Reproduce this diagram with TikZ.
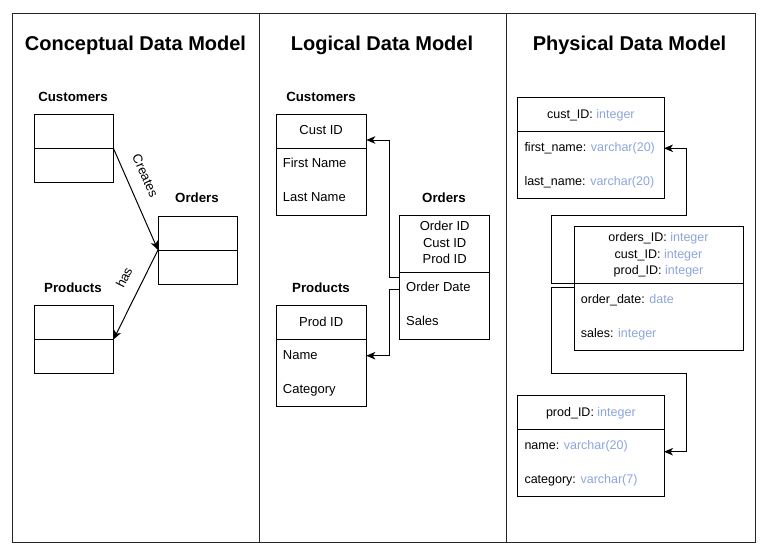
\documentclass[tikz,border=0pt]{standalone}
\usepackage{fontspec}
\setmainfont{Liberation Sans}
\usetikzlibrary{arrows.meta}
\definecolor{typecol}{RGB}{140,165,220}
\begin{document}
\begin{tikzpicture}[x=1pt,y=-1pt,
  frame/.style={draw=black!85, line width=1pt},
  title/.style={font=\fontsize{20}{24}\selectfont\bfseries, inner sep=0pt, text height=.716em, text depth=0pt},
  lbl/.style={font=\fontsize{13.3}{16}\selectfont\bfseries, inner sep=0pt, text height=.716em, text depth=0pt},
  txt/.style={font=\fontsize{13}{16}\selectfont, inner sep=0pt, text height=.716em, text depth=0pt},
  ptxt/.style={font=\fontsize{12.5}{15}\selectfont, inner sep=0pt, text height=.716em, text depth=0pt},
  row/.style={txt, anchor=west},
  prow/.style={ptxt, anchor=west},
  box/.style 2 args={draw, line width=1pt, minimum width=#1, minimum height=#2,
     inner sep=0pt, outer sep=0pt, anchor=north west, font=\fontsize{13}{16}\selectfont,
     text height=.716em, text depth=0pt},
  pbox/.style 2 args={box={#1}{#2}, font=\fontsize{12.5}{15}\selectfont},
  arr/.style={-{Stealth[length=9pt,width=7.5pt,inset=2.5pt]}, line width=1pt},
  ty/.style={}]
\useasboundingbox (0,0) rectangle (767,552);

% panels
\draw[frame] (12,13) rectangle (755,542.5);
\draw[frame] (259.5,13) -- (259.5,542.5);
\draw[frame] (506.5,13) -- (506.5,542.5);

% titles
\node[title] (t1) at (135.5,47) {Conceptual Data Model};
\node[title] (t2) at (382,47) {Logical Data Model};
\node[title] (t3) at (629.5,47) {Physical Data Model};

% ---------- Conceptual ----------
\node[lbl] (cClbl) at (73,97.5) {Customers};
\node[box={79}{34}] (cCH) at (34.5,114.5) {};
\node[box={79}{34}] (cCB) at (34.5,148.5) {};
\node[lbl] (cOlbl) at (197,198.5) {Orders};
\node[box={79}{34}] (cOH) at (158,216) {};
\node[box={79}{34}] (cOB) at (158,250) {};
\node[lbl] (cPlbl) at (73,288.5) {Products};
\node[box={79}{34}] (cPH) at (34.5,305.5) {};
\node[box={79}{34}] (cPB) at (34.5,339.5) {};

\draw[arr] (cCB.north east) -- (cOB.north west);
\draw[arr] (cOB.north west) -- (cPB.north east);
\node[txt, rotate=-66] (creates) at (144.5,176) {Creates};
\node[txt, rotate=63.5] (has) at (125,278) {has};

% ---------- Logical ----------
\node[lbl] (lClbl) at (321,97.5) {Customers};
\node[box={90.3}{34}] (lCH) at (276,114.3) {Cust ID};
\node[box={90.3}{67.4}] (lCB) at (276,148.3) {};
\node[row] (lCfirst) at (282.7,164.3) {First Name};
\node[row] (lClast) at (282.7,198.3) {Last Name};

\node[lbl] (lOlbl) at (444,198.5) {Orders};
\node[box={90}{56.3}] (lOH) at (399.7,215.7) {};
\node[txt] (lOh1) at (444.7,227) {Order ID};
\node[txt] (lOh2) at (444.7,243.5) {Cust ID};
\node[txt] (lOh3) at (444.7,260) {Prod ID};
\node[box={90}{67}] (lOB) at (399.7,272) {};
\node[row] (lOdate) at (406,288.3) {Order Date};
\node[row] (lOsales) at (406,322.3) {Sales};

\node[lbl] (lPlbl) at (321,288.5) {Products};
\node[box={90.3}{33.6}] (lPH) at (276,305.7) {Prod ID};
\node[box={90.3}{67}] (lPB) at (276,339.3) {};
\node[row] (lPname) at (282.7,355.7) {Name};
\node[row] (lPcat) at (282.7,389.7) {Category};

\draw[arr] ([yshift=-5.7pt]lOB.north west) -- ++(-10.7,0) |- ([yshift=-8.7pt]lCH.east);
\draw[arr] ([yshift=-17pt]lOB.north west) -- ++(-10.7,0) |- (lPB.east |- lPname);

% ---------- Physical ----------
\node[pbox={146.3}{34}] (pCH) at (517.7,97.7) {cust\_ID: \textcolor{typecol}{integer}};
\node[pbox={146.3}{67}] (pCB) at (517.7,131.7) {};
\node[prow] (pCfirst) at (524.3,148.3) {first\_name: \textcolor{typecol}{varchar(20)}};
\node[prow] (pClast) at (524.3,181.7) {last\_name: \textcolor{typecol}{varchar(20)}};

\node[pbox={169}{56.3}] (pOH) at (574,226.7) {};
\node[ptxt] (pOh1) at (658.5,238.3) {orders\_ID: \textcolor{typecol}{integer}};
\node[ptxt] (pOh2) at (658.5,254.7) {cust\_ID: \textcolor{typecol}{integer}};
\node[ptxt] (pOh3) at (658.5,271.3) {prod\_ID: \textcolor{typecol}{integer}};
\node[pbox={169}{67.3}] (pOB) at (574,283) {};
\node[prow] (pOdate) at (580.7,300) {order\_date: \textcolor{typecol}{date}};
\node[prow] (pOsales) at (580.7,334) {sales: \textcolor{typecol}{integer}};

\node[pbox={146.3}{33.6}] (pPH) at (517.7,395.7) {prod\_ID: \textcolor{typecol}{integer}};
\node[pbox={146.3}{67.4}] (pPB) at (517.7,429.3) {};
\node[prow] (pPname) at (524.3,446) {name: \textcolor{typecol}{varchar(20)}};
\node[prow] (pPcat) at (524.3,479.7) {category: \textcolor{typecol}{varchar(7)}};

\draw[arr] (pOH.south west) -- ++(-22.7,0) -- ++(0,-67.3) -- ++(135.4,0) |- (pCB.east |- pCfirst);
\draw[arr] ([yshift=-4.7pt]pOB.north west) -- ++(-22.7,0) -- ++(0,85.6) -- ++(135.4,0) |- ([yshift=-22.4pt]pPB.north east);
\end{tikzpicture}
\end{document}
